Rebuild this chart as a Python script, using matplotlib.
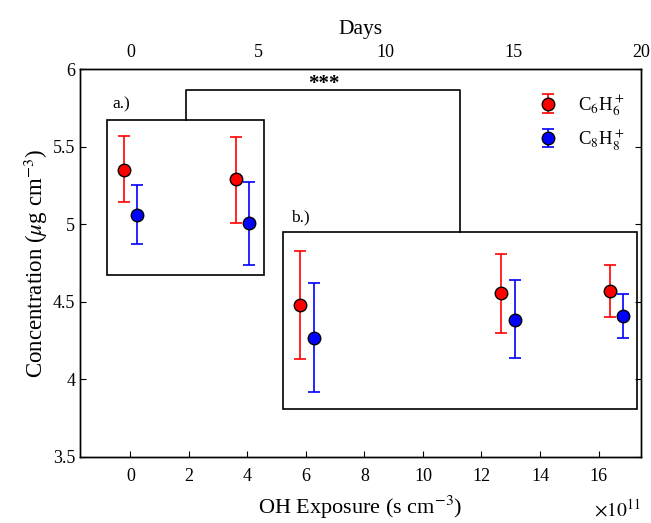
import matplotlib.pyplot as plt
from matplotlib.patches import Rectangle

plt.rcParams['font.family'] = ['Liberation Serif', 'DejaVu Serif']
plt.rcParams['mathtext.fontset'] = 'stix'

# OH exposure (x 1e11 s cm^-3) and concentrations (ug cm^-3)
exp_c6 = [-0.2, 3.62, 5.81, 12.68, 16.4]
conc_c6 = [5.35, 5.29, 4.48, 4.56, 4.57]
lo_c6 = [5.14, 5.01, 4.13, 4.30, 4.40]
hi_c6 = [5.57, 5.56, 4.83, 4.81, 4.74]

exp_c8 = [0.24, 4.07, 6.26, 13.13, 16.85]
conc_c8 = [5.06, 5.01, 4.27, 4.38, 4.41]
lo_c8 = [4.87, 4.74, 3.92, 4.14, 4.27]
hi_c8 = [5.25, 5.27, 4.62, 4.64, 4.55]

x_ticks = [0, 2, 4, 6, 8, 10, 12, 14, 16]
day_ticks = [0, 5, 10, 15, 20]
y_ticks = [3.5, 4, 4.5, 5, 5.5, 6]

xmin, xmax = -1.72, 17.45
days_per_unit = 20 / xmax

fig = plt.figure(figsize=(6.51, 5.23), dpi=100)
ax = fig.add_axes([0.1229, 0.1262, 0.8617, 0.7418])

err6 = [[c - l for c, l in zip(conc_c6, lo_c6)], [h - c for c, h in zip(conc_c6, hi_c6)]]
err8 = [[c - l for c, l in zip(conc_c8, lo_c8)], [h - c for c, h in zip(conc_c8, hi_c8)]]

ax.errorbar(exp_c6, conc_c6, yerr=err6, fmt='o', color='red', ecolor='red',
            mec='black', mfc='red', ms=9, capsize=4.5, elinewidth=1.2,
            capthick=1.2, label=r'C$_6$H$_6^+$')
ax.errorbar(exp_c8, conc_c8, yerr=err8, fmt='o', color='blue', ecolor='blue',
            mec='black', mfc='blue', ms=9, capsize=4.5, elinewidth=1.2,
            capthick=1.2, label=r'C$_8$H$_8^+$')

# boxes around the groups
ax.add_patch(Rectangle((-0.79, 4.67), 5.37, 1.0, fill=False, lw=1.2, ec='black'))
ax.add_patch(Rectangle((5.2, 3.81), 12.1, 1.14, fill=False, lw=1.2, ec='black'))
ax.text(-0.3, 5.72, 'a.)', fontsize=12.5, ha='center', va='bottom')
ax.text(5.8, 4.99, 'b.)', fontsize=12.5, ha='center', va='bottom')

# significance bracket
ax.plot([1.91, 1.91, 11.25, 11.25], [5.67, 5.865, 5.865, 4.95], color='black', lw=1.2)
ax.text(6.6, 5.84, '***', fontsize=15, ha='center', va='bottom', fontweight='bold')

ax.set_xlim(xmin, xmax)
ax.set_ylim(3.5, 6)
ax.set_xticks(x_ticks)
ax.set_yticks(y_ticks)
ax.set_yticklabels(['3.5', '4', '4.5', '5', '5.5', '6'])
ax.tick_params(direction='in', labelsize=13, right=True, top=True, length=4)
ax.tick_params(axis='x', pad=8)
ax.set_xlabel(r'OH Exposure (s cm$^{-3}$)', fontsize=16, labelpad=6)
ax.set_ylabel(r'Concentration ($\mu$g cm$^{-3}$)', fontsize=16.5, labelpad=2)
ax.text(1.0, -0.135, r'$\times 10^{11}$', transform=ax.transAxes, fontsize=14,
        ha='right', va='center')

top = ax.twiny()
top.set_xlim(xmin * days_per_unit, 20)
top.set_xticks(day_ticks)
top.tick_params(direction='in', labelsize=13, length=0, pad=6)
top.set_xlabel('Days', fontsize=15.5, labelpad=7)

leg = ax.legend(loc='upper right', bbox_to_anchor=(1.0, 0.985), frameon=False,
                fontsize=13.5, handletextpad=0.6, borderaxespad=0.5,
                labelspacing=0.5)

for a in (ax, top):
    for s in a.spines.values():
        s.set_linewidth(1.0)

fig.savefig('out.png', dpi=100)
